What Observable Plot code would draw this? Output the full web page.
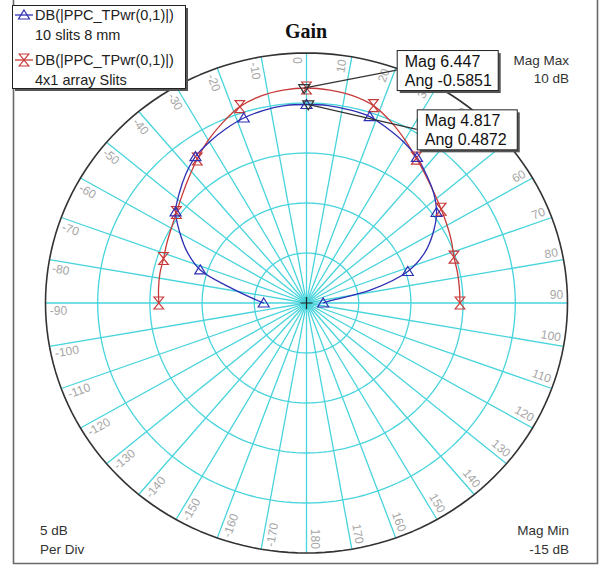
<!DOCTYPE html>
<html>
<head>
<meta charset="utf-8">
<script src="https://cdn.jsdelivr.net/npm/d3@7"></script>
<script src="https://cdn.jsdelivr.net/npm/@observablehq/plot@0.6"></script>
<style>
  html, body { margin: 0; padding: 0; background: #fff; }
  #chart { width: 600px; height: 565px; }
  #chart svg { display: block; }
</style>
</head>
<body>
<div id="chart"></div>
<script>
// Far-field gain cut (dB) versus angle (deg) for two slot-antenna designs
const angles = [-90, -84, -78, -72, -66, -60, -54, -48, -42, -36, -30, -24, -18, -12, -6, 0,
                6, 12, 18, 24, 30, 36, 42, 48, 54, 60, 66, 72, 78, 84, 90];
const gainSlits10 = [-10.9, -9.6, -7.5, -4.3, -2.5, -1.0, 0.5, 1.4, 2.3, 3.1, 3.6, 4.05, 4.45, 4.7, 4.85, 4.85,
                     4.85, 4.75, 4.6, 4.1, 3.6, 3.0, 2.2, 1.4, 0.4, -1.0, -2.6, -4.8, -8.7, -12.6, -13.4];
const gainArray4x1 = [-0.85, -0.75, -0.65, -0.6, -0.35, -0.05, 0.4, 1.05, 1.85, 2.8, 3.8, 4.75, 5.65, 6.15, 6.4, 6.5,
                      6.4, 6.2, 5.75, 4.85, 3.85, 2.9, 2.1, 1.45, 0.95, 0.55, 0.2, -0.15, -0.22, -0.28, -0.3];

// Trace names and notes shown in the legend
const traceExpr = ["DB(|PPC_TPwr(0,1)|)", "DB(|PPC_TPwr(0,1)|)"];
const traceNotes = ["10 slits 8 mm", "4x1 array Slits"];

// Marker readouts: angle (deg), magnitude (dB), trace index
const readoutAngles = [-0.5851, 0.4872];
const readoutMags = [6.447, 4.817];
const readoutTrace = [1, 0];

// Radial and angular axis settings
const magMin = -15;
const magMax = 10;
const dbPerDiv = 5;
const angleTicks = d3.range(-170, 181, 10);

// ---- styling ----
const blue = "#2f2fb4";
const red = "#c83a3a";
const cyan = "#48d4dc";
const markerStep = 3;

const R = magMax - magMin;
const rad = (deg) => deg * Math.PI / 180;
const px = (deg, db) => Math.max(0, db - magMin) * Math.sin(rad(deg));
const py = (deg, db) => Math.max(0, db - magMin) * Math.cos(rad(deg));

const traces = [
  {values: gainSlits10, color: blue},
  {values: gainArray4x1, color: red}
];
const rows = traces.flatMap((t, k) => angles.map((a, i) => ({trace: k, angle: a, db: t.values[i], i})));

const readouts = readoutAngles.map((a, i) => ({angle: a, db: readoutMags[i], trace: readoutTrace[i]}));

// grid geometry
const ringLevels = d3.range(magMin + dbPerDiv, magMax, dbPerDiv);
const sweep = d3.range(0, 361, 2);
const ringPts = ringLevels.flatMap((v) => sweep.map((a) => ({v, a})));
const outerPts = sweep.map((a) => ({v: magMax, a}));

// marker symbols
const triUp = {draw(ctx, size) { const r = Math.sqrt(size / Math.PI);
  ctx.moveTo(0, -r); ctx.lineTo(1.1 * r, 0.8 * r); ctx.lineTo(-1.1 * r, 0.8 * r); ctx.closePath(); }};
const triDown = {draw(ctx, size) { const r = Math.sqrt(size / Math.PI);
  ctx.moveTo(0, r); ctx.lineTo(1.1 * r, -0.8 * r); ctx.lineTo(-1.1 * r, -0.8 * r); ctx.closePath(); }};
const hourglass = {draw(ctx, size) { const r = Math.sqrt(size / Math.PI);
  ctx.moveTo(-0.8 * r, -r); ctx.lineTo(0.8 * r, -r); ctx.lineTo(-0.8 * r, r); ctx.lineTo(0.8 * r, r); ctx.closePath(); }};
const traceSymbols = [triUp, hourglass];

const labelR = R - 0.4;
const labelOff = 1.9;
const fontSans = "Arial, 'Liberation Sans', sans-serif";

// callout box placement relative to its marker (px)
const calloutLayout = [{dx: 93, dy: -38, w: 101, h: 40}, {dx: 109, dy: 5, w: 100, h: 40}];

function boxWithShadow(g, x, y, w, h) {
  g.append("rect").attr("x", x + 3).attr("y", y + 3).attr("width", w).attr("height", h).attr("fill", "#555");
  g.append("rect").attr("x", x + 0.5).attr("y", y + 0.5).attr("width", w).attr("height", h)
    .attr("fill", "#fff").attr("stroke", "#222").attr("stroke-width", 1);
}

function overlay(index, scales, values, dims) {
  const sx = scales.x, sy = scales.y;
  const g = d3.create("svg:g").attr("font-family", fontSans).attr("text-anchor", "start");

  // outer frame
  g.append("path").attr("d", "M13.5,0V563.5H597.5V0").attr("fill", "none")
    .attr("stroke", "#6a6a6a").attr("stroke-width", 1.6);

  // title
  g.append("text").attr("x", 306).attr("y", 38).attr("text-anchor", "middle")
    .attr("font-family", "'Liberation Serif', 'Times New Roman', serif").attr("font-weight", "bold")
    .attr("font-size", 20).attr("fill", "#111").text("Gain");

  // scale notes
  const note = (x, y, anchor, txt) => g.append("text").attr("x", x).attr("y", y)
    .attr("text-anchor", anchor).attr("font-size", 13.5).attr("fill", "#333").text(txt);
  note(569, 65, "end", "Mag Max");
  note(569, 83, "end", `${magMax} dB`);
  note(569, 535, "end", "Mag Min");
  note(569, 554, "end", `${magMin} dB`);
  note(40, 535, "start", `${dbPerDiv} dB`);
  note(40, 554, "start", "Per Div");

  // marker readout callouts
  readouts.forEach((d, i) => {
    const L = calloutLayout[i];
    const x0 = sx(px(d.angle, d.db)), y0 = sy(py(d.angle, d.db));
    const bx = x0 + L.dx, by = y0 + L.dy;
    g.append("line").attr("x1", x0).attr("y1", y0).attr("x2", bx).attr("y2", by + L.h / 2)
      .attr("stroke", "#333").attr("stroke-width", 1.2);
    boxWithShadow(g, bx, by, L.w, L.h);
    g.append("text").attr("x", bx + 8).attr("y", by + 17).attr("font-size", 16).attr("fill", "#111")
      .text(`Mag ${d.db}`);
    g.append("text").attr("x", bx + 8).attr("y", by + 36).attr("font-size", 16).attr("fill", "#111")
      .text(`Ang ${d.angle}`);
  });

  // legend
  boxWithShadow(g, 12, 5, 173, 83);
  traces.forEach((t, k) => {
    const yl = 15 + k * 45;
    g.append("line").attr("x1", 15).attr("x2", 33).attr("y1", yl).attr("y2", yl)
      .attr("stroke", t.color).attr("stroke-width", 1.3);
    const p = d3.path();
    traceSymbols[k].draw(p, Math.PI * (k ? 36 : 25));
    g.append("path").attr("d", p.toString()).attr("transform", `translate(24,${yl})`)
      .attr("fill", "none").attr("stroke", t.color).attr("stroke-width", 1.2);
    g.append("text").attr("x", 35).attr("y", yl + 5).attr("font-size", 14.5).attr("fill", "#222").text(traceExpr[k]);
    g.append("text").attr("x", 35).attr("y", yl + 25).attr("font-size", 14.5).attr("fill", "#222").text(traceNotes[k]);
  });
  return g.node();
}

const chart = Plot.plot({
  width: 600,
  height: 565,
  margin: 0,
  style: {background: "#fff", fontFamily: fontSans},
  x: {domain: [-R, R], range: [45, 567], axis: null},
  y: {domain: [-R, R], range: [552.5, 52.5], axis: null},
  marks: [
    // concentric dB rings
    Plot.line(ringPts, {x: (d) => px(d.a, d.v), y: (d) => py(d.a, d.v), z: "v", stroke: cyan, strokeWidth: 1.3}),
    // angle spokes
    Plot.link(angleTicks, {x1: () => 0, y1: () => 0, x2: (a) => px(a, magMax), y2: (a) => py(a, magMax),
      stroke: cyan, strokeWidth: 1.3}),
    // outer ring
    Plot.line(outerPts, {x: (d) => px(d.a, d.v), y: (d) => py(d.a, d.v), stroke: "#333", strokeWidth: 1.6}),
    // angle labels, right half read outward, left half read inward
    Plot.text(angleTicks.filter((a) => a >= 0), {
      x: (a) => labelR * Math.sin(rad(a - labelOff)), y: (a) => labelR * Math.cos(rad(a - labelOff)),
      text: (a) => String(a), rotate: (a) => a - 90, textAnchor: "end", lineAnchor: "middle",
      fontSize: 12, fill: "#a6a6a6"}),
    Plot.text(angleTicks.filter((a) => a < 0), {
      x: (a) => labelR * Math.sin(rad(a - labelOff)), y: (a) => labelR * Math.cos(rad(a - labelOff)),
      text: (a) => String(a), rotate: (a) => a + 90, textAnchor: "start", lineAnchor: "middle",
      fontSize: 12, fill: "#a6a6a6"}),
    // traces (4x1 array underneath)
    ...[1, 0].map((k) => Plot.line(rows.filter((d) => d.trace === k), {
      x: (d) => px(d.angle, d.db), y: (d) => py(d.angle, d.db),
      curve: "catmull-rom", stroke: traces[k].color, strokeWidth: 1.3})),
    ...[1, 0].map((k) => Plot.dot(rows.filter((d) => d.trace === k && d.i % markerStep === 0), {
      x: (d) => px(d.angle, d.db), y: (d) => py(d.angle, d.db),
      symbol: traceSymbols[k], r: k ? 6 : 5, fill: "none", stroke: traces[k].color, strokeWidth: 1.2})),
    // readout indicators
    Plot.dot(readouts, {x: (d) => px(d.angle, d.db), y: (d) => py(d.angle, d.db),
      symbol: triDown, r: 5, fill: "none", stroke: "#333", strokeWidth: 1.2}),
    // origin cross
    Plot.dot([0], {x: () => 0, y: () => 0, symbol: "plus", r: 4, stroke: "#222", strokeWidth: 1.2}),
    overlay
  ]
});

document.getElementById("chart").append(chart);
</script>
</body>
</html>
